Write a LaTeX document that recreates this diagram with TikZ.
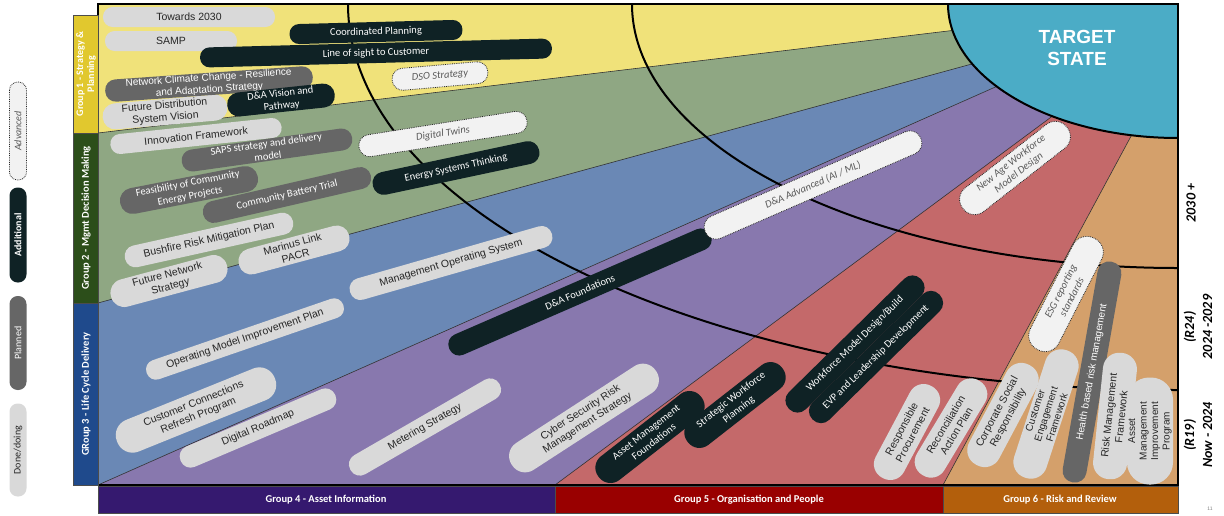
\documentclass[tikz,border=0pt]{standalone}
\usepackage{fontspec}
\setmainfont{Liberation Sans}
\newfontfamily\arialf{Liberation Sans}
\newfontfamily\calf{Carlito}
\newcommand\fdone{\arialf\fontsize{10.5}{12.5}\selectfont}
\newcommand\fcal{\calf\fontsize{10.5}{12.5}\selectfont}
\newcommand\fcalit{\calf\itshape\fontsize{10.5}{12.5}\selectfont}

\definecolor{bandY}{HTML}{F0E27A}
\definecolor{bandG}{HTML}{8FA783}
\definecolor{bandB}{HTML}{6A88B5}
\definecolor{bandP}{HTML}{8878AE}
\definecolor{bandR}{HTML}{C4696A}
\definecolor{bandO}{HTML}{D4A06B}
\definecolor{targetC}{HTML}{4BACC6}
\definecolor{grpA}{HTML}{E1C82E}
\definecolor{grpB}{HTML}{2C4E1A}
\definecolor{grpC}{HTML}{1F4A8C}
\definecolor{grpD}{HTML}{35196F}
\definecolor{grpE}{HTML}{990000}
\definecolor{grpF}{HTML}{B35F0C}
\definecolor{pillDone}{HTML}{D9D9D9}
\definecolor{pillPlan}{HTML}{666666}
\definecolor{pillAdd}{HTML}{0F2225}
\definecolor{pillAdv}{HTML}{F2F2F2}
\definecolor{txtDark}{HTML}{262626}
\definecolor{txtAdv}{HTML}{595959}

\begin{document}
\begin{tikzpicture}[x=1pt,y=1pt,
  pill/.style 2 args={minimum width=#1, minimum height=#2, rounded corners=#2*0.48pt,
    inner xsep=2pt, inner ysep=0.5pt, align=center},
  done/.style={fill=pillDone, text=txtDark, font=\fdone},
  planned/.style={fill=pillPlan, text=white, font=\fcal},
  additional/.style={fill=pillAdd, text=white, font=\fcal},
  advanced/.style={fill=pillAdv, draw=black!85, densely dotted, line width=0.8pt,
    text=txtAdv, font=\fcalit},
  bandline/.style={draw=black!80, line width=0.6pt},
  horizon/.style={draw=black, line width=2pt},
  grpbar/.style={draw=black!70, line width=0.5pt},
  grptext/.style={text=white, font=\calf\bfseries\fontsize{10.5}{11}\selectfont, align=center},
  legtext/.style={font=\calf\fontsize{10}{11}\selectfont},
  periodtext/.style={font=\calf\bfseries\itshape\fontsize{14}{18}\selectfont, align=center, rotate=90}
]
\useasboundingbox (0,0) rectangle (1224,-515);

% ---- coloured bands of the roadmap ----
\begin{scope}
  \clip (98,-4) rectangle (1178,-485);
  \fill[bandY] (98,-4) rectangle (1178,-485);
  \fill[bandG] (98,-133) -- (1178,-3.4) -- (1178,-485) -- (98,-485) -- cycle;
  \fill[bandB] (98,-303) -- (1178,-7.6) -- (1178,-485) -- (98,-485) -- cycle;
  \fill[bandP] (98,-485) -- (1178,-6) -- (1178,-485) -- cycle;
  \fill[bandR] (555,-485) -- (1178,-23) -- (1178,-485) -- cycle;
  \fill[bandO] (943,-485) -- (1178,-49) -- (1178,-485) -- cycle;
  \draw[bandline] (98,-133) -- (1178,-3.4);
  \draw[bandline] (98,-303) -- (1178,-7.6);
  \draw[bandline] (98,-485) -- (1178,-6);
  \draw[bandline] (555,-485) -- (1178,-23);
  \draw[bandline] (943,-485) -- (1178,-49);
  % target state corner
  \fill[targetC] (948,-4) arc[start angle=180, end angle=270, x radius=230, y radius=134]
    -- (1178,-4) -- cycle;
  \draw[horizon] (948,-4) arc[start angle=180, end angle=270, x radius=230, y radius=134];
  % time horizons
  \draw[horizon] (348,-4) arc[start angle=180, end angle=270, x radius=830, y radius=386];
  \draw[horizon] (632,-4) arc[start angle=180, end angle=270, x radius=546, y radius=264];
\end{scope}
\draw[line width=2.2pt] (98,-4) rectangle (1178,-485);

\node[text=white, font=\arialf\bfseries\fontsize{19}{22}\selectfont, align=center]
  (target) at (1077,-48) {TARGET\\STATE};

% ---- group bars ----
\filldraw[grpbar, fill=grpA] (73,-15) rectangle (98,-133);
\filldraw[grpbar, fill=grpB] (73,-133) rectangle (98,-303);
\filldraw[grpbar, fill=grpC] (73,-303) rectangle (98,-485);
\node[grptext, rotate=90, font=\calf\bfseries\fontsize{10}{11}\selectfont] (g1) at (86,-74) {Group 1 - Strategy \&\\Planning};
\node[grptext, rotate=90] (g2) at (86,-218) {Group 2 - Mgmt Decision Making};
\node[grptext, rotate=90] (g3) at (86,-394) {GRoup 3 - Life Cycle Delivery};

\filldraw[grpbar, fill=grpD] (98,-486) rectangle (555,-513);
\filldraw[grpbar, fill=grpE] (555,-486) rectangle (943,-513);
\filldraw[grpbar, fill=grpF] (943,-486) rectangle (1178,-513);
\node[grptext] (g4) at (326,-499.5) {Group 4 - Asset Information};
\node[grptext] (g5) at (749,-499.5) {Group 5 - Organisation and People};
\node[grptext] (g6) at (1060,-499.5) {Group 6 - Risk and Review};

% ---- legend ----
\node[advanced, pill={98}{17}, rotate=90, legtext, font=\calf\itshape\fontsize{10}{11}\selectfont] (legadv) at (18,-131) {Advanced};
\node[additional, pill={95}{17}, rotate=90, legtext, font=\calf\bfseries\fontsize{10}{11}\selectfont] (legadd) at (18,-235) {Additional};
\node[planned, pill={94}{17}, rotate=90, legtext] (legplan) at (18,-343) {Planned};
\node[done, pill={93}{17}, rotate=90, legtext] (legdone) at (18,-450) {Done/doing};

% ---- periods ----
\node[periodtext] (p3) at (1191,-203) {2030 +};
\node[periodtext] (p2) at (1198,-327) {(R24)\\2024 -2029};
\node[periodtext] (p1) at (1198,-435) {(R19)\\Now - 2024};
\node[text=black!50, font=\fontsize{5}{6}\selectfont] (pgno) at (1210,-509) {11};

% ---- group 1 ----
\node[done, pill={172}{20}] (towards) at (189,-17) {Towards 2030};
\node[done, pill={132}{20}] (samp) at (171,-41) {SAMP};
\node[additional, pill={173}{20}, rotate=1.5] (coord) at (376,-32) {Coordinated Planning};
\node[additional, pill={352}{20}, rotate=1.5] (sight) at (376,-53) {Line of sight to Customer};
\node[advanced, pill={96}{22}, rotate=5] (dso) at (440,-76) {DSO Strategy};
\node[done, pill={125}{26}, rotate=5] (fdsv) at (165,-112) {Future Distribution\\System Vision};
\node[planned, pill={208}{22}, rotate=4, font=\arialf\fontsize{10}{12}\selectfont] (climate) at (209,-84) {Network Climate Change - Resilience\\and Adaptation Strategy};
\node[additional, pill={108}{24}, rotate=6] (davis) at (281,-100) {D\&A Vision and\\Pathway};

% ---- group 2 ----
\node[done, pill={172}{20}, rotate=6] (innov) at (196,-136) {Innovation Framework};
\node[planned, pill={172}{22}, rotate=8] (saps) at (267,-150) {SAPS strategy and delivery\\model};
\node[planned, pill={140}{26}, rotate=11] (feas) at (189,-190) {Feasibility of Community\\Energy Projects};
\node[planned, pill={172}{22}, rotate=13] (battery) at (287,-195) {Community Battery Trial};
\node[advanced, pill={170}{22}, rotate=9] (twins) at (443,-134) {Digital Twins};
\node[additional, pill={170}{23}, rotate=12] (est) at (456,-168) {Energy Systems Thinking};
\node[done, pill={172}{22}, rotate=12.5] (bushfire) at (209,-240) {Bushfire Risk Mitigation Plan};
\node[done, pill={114}{26}, rotate=15] (marinus) at (294,-250) {Marinus Link\\PACR};
\node[done, pill={120}{28}, rotate=15] (fns) at (169,-281) {Future Network\\Strategy};

% ---- group 3 ----
\node[done, pill={210}{22}, rotate=16] (mos) at (451,-263) {Management Operating System};
\node[done, pill={208}{20}, rotate=19] (ompi) at (245,-339) {Operating Model Improvement Plan};
\node[done, pill={170}{34}, rotate=22] (ccrp) at (196,-410) {Customer Connections\\Refresh Program};

% ---- group 4 ----
\node[additional, pill={285}{22}, rotate=23.5] (dafound) at (580,-292) {D\&A Foundations};
\node[advanced, pill={235}{24}, rotate=23.5] (daadv) at (813,-185) {D\&A Advanced (AI / ML)};
\node[done, pill={168}{22}, rotate=23] (droad) at (258,-428) {Digital Roadmap};
\node[done, pill={172}{22}, rotate=30] (meter) at (425,-427) {Metering Strategy};
\node[done, pill={172}{32}, rotate=33] (cyber) at (584,-418) {Cyber Security Risk\\Management Strategy};

% ---- group 5 ----
\node[additional, pill={130}{30}, rotate=38] (amf) at (650,-437) {Asset Management\\Foundations};
\node[additional, pill={120}{30}, rotate=38] (swp) at (735,-405) {Strategic Workforce\\Planning};
\node[additional, pill={185}{24}, rotate=44.5] (wmdb) at (855,-344) {Workforce Model Design/Build};
\node[additional, pill={178}{24}, rotate=44.5] (evp) at (876,-357) {EVP and Leadership Development};
\node[advanced, pill={132}{30}, rotate=38] (newage) at (1015,-168) {New Age Workforce\\Model Design};
\node[done, pill={104}{32}, rotate=62] (resp) at (907,-432) {Responsible\\Procurement};
\node[done, pill={110}{32}, rotate=59] (recon) at (951,-428) {Reconciliation\\Action Plan};

% ---- group 6 ----
\node[advanced, pill={125}{32}, rotate=63] (esg) at (1066,-294) {ESG reporting\\standards};
\node[done, pill={113}{34}, rotate=62] (csr) at (1003,-415) {Corporate Social\\Responsibility};
\node[done, pill={134}{34}, rotate=72, font=\arialf\fontsize{10}{11.5}\selectfont] (cef) at (1046,-414) {Customer\\Engagement\\Framework};
\node[planned, pill={224}{24}, rotate=80, font=\arialf\fontsize{10}{11}\selectfont] (hbrm) at (1092,-372) {Health based risk management};
\node[done, pill={127}{34}, rotate=84] (rmf) at (1115,-416) {Risk Management\\Framework};
\node[done, pill={107}{46}, rotate=90, font=\arialf\fontsize{10}{11.5}\selectfont] (amip) at (1150,-431) {Asset\\Management\\Improvement\\Program};

\end{tikzpicture}
\end{document}
